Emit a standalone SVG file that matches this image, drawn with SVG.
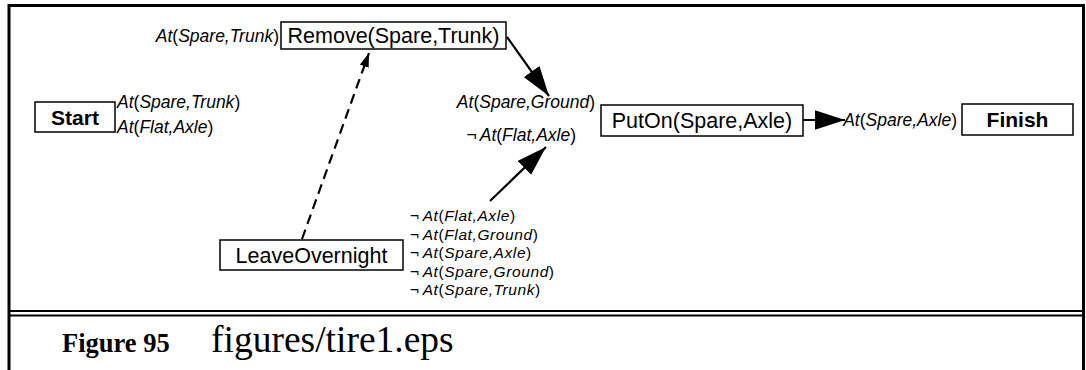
<svg xmlns="http://www.w3.org/2000/svg" width="1086" height="370" viewBox="0 0 1086 370">
<style>
.box{fill:#fff;stroke:#000;stroke-width:1.5}
.nt{font-family:"Liberation Sans",Arial,sans-serif;font-size:21.5px;fill:#000}
.bt{font-family:"Liberation Sans",Arial,sans-serif;font-size:21px;font-weight:bold;fill:#000}
.lb{font-family:"Liberation Sans",Arial,sans-serif;font-size:17.5px;fill:#000}
.ef{font-family:"Liberation Sans",Arial,sans-serif;font-size:15.5px;letter-spacing:0.6px;fill:#000}
.it{font-style:italic}
.con{stroke:#000;stroke-width:2.2;fill:none}
</style>
<defs>
<marker id="big" markerUnits="userSpaceOnUse" markerWidth="30" markerHeight="20" refX="28" refY="9" orient="auto" viewBox="0 0 28 18"><path d="M0,0 L28,9 L0,18 Z" fill="#000"/></marker>
<marker id="small" markerUnits="userSpaceOnUse" markerWidth="14" markerHeight="10" refX="12" refY="4" orient="auto" viewBox="0 0 12 8"><path d="M0,0 L12,4 L0,8 Z" fill="#000"/></marker>
</defs>
<rect x="0" y="0" width="1086" height="370" fill="#fff"/>
<g id="frame" fill="none" stroke="#000">
<path d="M9,370 V5.5 H1083.5 V370" stroke-width="3"/>
<line x1="9" y1="311" x2="1084" y2="311" stroke-width="2"/>
<line x1="9" y1="315.5" x2="1084" y2="315.5" stroke-width="2"/>
</g>
<g id="connectors">
<line class="con" x1="302" y1="239" x2="369" y2="53" stroke-dasharray="10,6" marker-end="url(#small)"/>
<line class="con" x1="507" y1="37" x2="549" y2="96" marker-end="url(#big)"/>
<line class="con" x1="490" y1="201" x2="546" y2="147" marker-end="url(#big)"/>
<line class="con" x1="803" y1="120" x2="845" y2="120" marker-end="url(#big)"/>
</g>
<g id="start">
<rect class="box" x="35" y="102" width="80" height="30"/>
<text class="bt" x="75" y="124.5" text-anchor="middle">Start</text>
<text class="lb" x="117" y="108"><tspan class="it">At</tspan>(<tspan class="it">Spare,Trunk</tspan>)</text>
<text class="lb" x="117" y="133"><tspan class="it">At</tspan>(<tspan class="it">Flat,Axle</tspan>)</text>
</g>
<g id="remove">
<text class="lb" x="279" y="42" text-anchor="end"><tspan class="it">At</tspan>(<tspan class="it">Spare,Trunk</tspan>)</text>
<rect class="box" x="281" y="22" width="225" height="27"/>
<text class="nt" x="393.5" y="43" text-anchor="middle">Remove(Spare,Trunk)</text>
</g>
<g id="puton">
<text class="lb" x="595" y="108" text-anchor="end"><tspan class="it">At</tspan>(<tspan class="it">Spare,Ground</tspan>)</text>
<text class="lb" x="576" y="141" text-anchor="end">¬<tspan class="it" dx="3">At</tspan>(<tspan class="it">Flat,Axle</tspan>)</text>
<rect class="box" x="601" y="105" width="202" height="31"/>
<text class="nt" x="702" y="128" text-anchor="middle">PutOn(Spare,Axle)</text>
</g>
<g id="finish">
<text class="lb" x="957" y="126" text-anchor="end"><tspan class="it">At</tspan>(<tspan class="it">Spare,Axle</tspan>)</text>
<rect class="box" x="962" y="104" width="111" height="31"/>
<text class="bt" x="1017.5" y="127" text-anchor="middle">Finish</text>
</g>
<g id="leaveovernight">
<rect class="box" x="220" y="240" width="183" height="30"/>
<text class="nt" x="311.5" y="263" text-anchor="middle">LeaveOvernight</text>
<text class="ef" x="410" y="221">¬<tspan class="it" dx="3">At</tspan>(<tspan class="it">Flat,Axle</tspan>)</text>
<text class="ef" x="410" y="239.5">¬<tspan class="it" dx="3">At</tspan>(<tspan class="it">Flat,Ground</tspan>)</text>
<text class="ef" x="410" y="258">¬<tspan class="it" dx="3">At</tspan>(<tspan class="it">Spare,Axle</tspan>)</text>
<text class="ef" x="410" y="276.5">¬<tspan class="it" dx="3">At</tspan>(<tspan class="it">Spare,Ground</tspan>)</text>
<text class="ef" x="410" y="295">¬<tspan class="it" dx="3">At</tspan>(<tspan class="it">Spare,Trunk</tspan>)</text>
</g>
<g id="caption">
<text x="62" y="352" font-family="'Liberation Serif','Times New Roman',serif" font-size="26.5" font-weight="bold">Figure 95</text>
<text x="211" y="352" font-family="'Liberation Serif','Times New Roman',serif" font-size="37.5">figures/tire1.eps</text>
</g>
</svg>
